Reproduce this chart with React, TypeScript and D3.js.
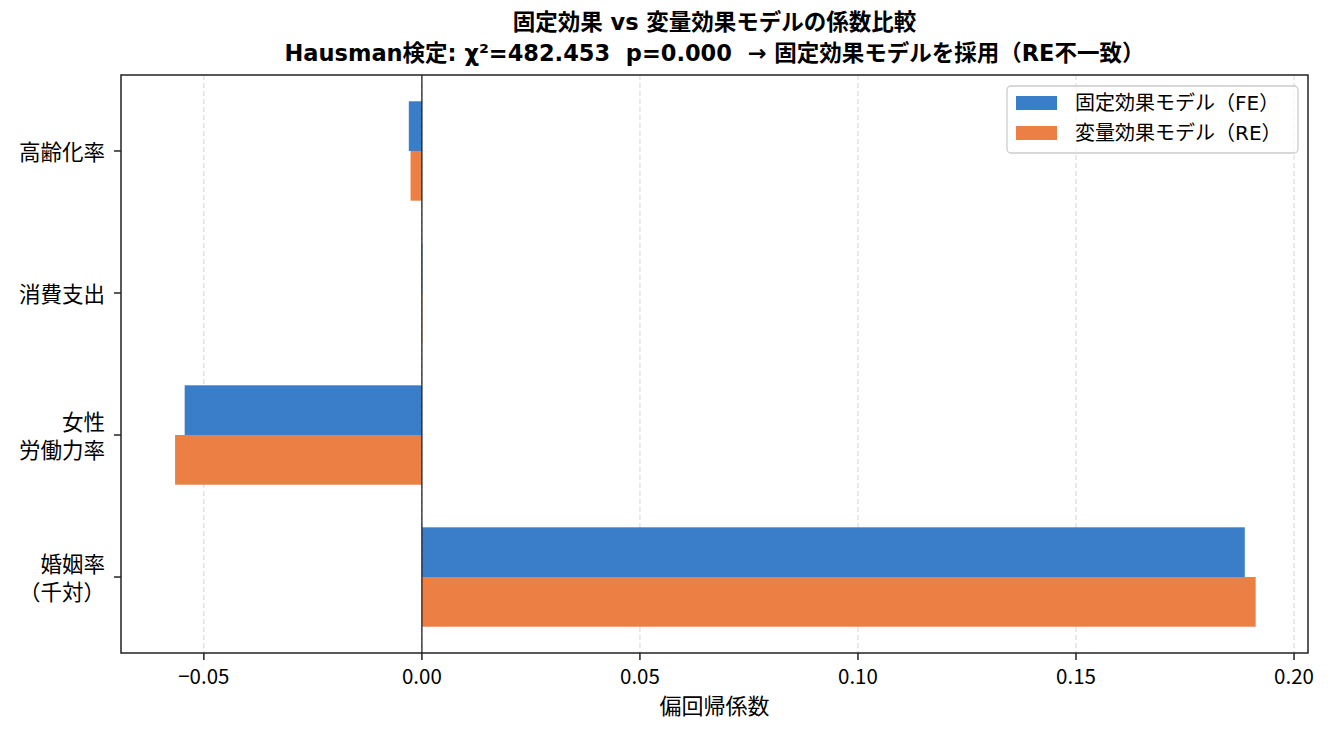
import React from 'react';
import * as d3 from 'd3';

// bottom to top, as matplotlib barh draws them
const categories = ['婚姻率\n（千対）', '女性\n労働力率', '消費支出', '高齢化率'];
const feValues = [0.1887, -0.0544, 0.0001, -0.0030];
const reValues = [0.1912, -0.0566, 0.0001, -0.0026];
const xTicks = [-0.05, 0.0, 0.05, 0.1, 0.15, 0.2];
const seriesNames = ['固定効果モデル（FE）', '変量効果モデル（RE）'];
const colors = ['#3a7dc9', '#ec7f43'];

const W = 1333;
const H = 735;
const margin = { top: 75, right: 25, bottom: 82, left: 121 };
const FONT = '"Noto Sans CJK JP", "Noto Sans", sans-serif';
const LATIN_FIRST = '"DejaVu Sans", "Noto Sans CJK JP", sans-serif';
const barH = 0.35;

export default function App() {
  const x = d3.scaleLinear().domain([-0.069, 0.2032]).range([margin.left, W - margin.right]);
  const y = d3.scaleLinear().domain([-0.535, 3.535]).range([H - margin.bottom, margin.top]);
  const fmt = d3.format('.2f');
  const bottom = H - margin.bottom;
  const cx = (margin.left + W - margin.right) / 2;

  return (
    <svg width={W} height={H} style={{ position: 'absolute', left: 0, top: 0, background: '#fff' }} fontFamily={FONT}>
      {/* title */}
      <text x={cx} y={30} textAnchor="middle" fontSize={22.5} fontWeight="bold" fontFamily={LATIN_FIRST} style={{ whiteSpace: 'pre' }}>
        固定効果 vs 変量効果モデルの係数比較
      </text>
      <text x={cx} y={61} textAnchor="middle" fontSize={22.5} fontWeight="bold" fontFamily={LATIN_FIRST} style={{ whiteSpace: 'pre' }}>
        {'Hausman検定: χ²=482.453  p=0.000  → 固定効果モデルを採用（RE不一致）'}
      </text>

      {/* grid */}
      {xTicks.map(t => (
        <line key={'g' + t} x1={x(t)} x2={x(t)} y1={margin.top} y2={bottom}
          stroke="#d9d9d9" strokeWidth={1.1} strokeDasharray="5,3" />
      ))}

      {/* bars */}
      {categories.map((c, i) => (
        <g key={c}>
          <rect x={Math.min(x(0), x(feValues[i]))} y={y(i + barH)}
            width={Math.abs(x(feValues[i]) - x(0))} height={y(i) - y(i + barH)} fill={colors[0]} />
          <rect x={Math.min(x(0), x(reValues[i]))} y={y(i)}
            width={Math.abs(x(reValues[i]) - x(0))} height={y(i - barH) - y(i)} fill={colors[1]} />
        </g>
      ))}

      {/* zero line */}
      <line x1={x(0)} x2={x(0)} y1={margin.top} y2={bottom} stroke="#222" strokeWidth={1.3} />

      {/* frame */}
      <rect x={margin.left} y={margin.top} width={W - margin.right - margin.left} height={bottom - margin.top}
        fill="none" stroke="#222" strokeWidth={1.5} />

      {/* x axis */}
      {xTicks.map(t => (
        <g key={'x' + t}>
          <line x1={x(t)} x2={x(t)} y1={bottom} y2={bottom + 7} stroke="#222" strokeWidth={1.5} />
          <text x={x(t)} y={bottom + 31} textAnchor="middle" fontSize={20.5}>{fmt(t)}</text>
        </g>
      ))}
      <text x={cx} y={714} textAnchor="middle" fontSize={22}>偏回帰係数</text>

      {/* y axis */}
      {categories.map((c, i) => {
        const lines = c.split('\n');
        const lh = 28;
        const y0 = y(i) + 1 - ((lines.length - 1) * lh) / 2;
        return (
          <g key={'y' + c}>
            <line x1={margin.left - 7} x2={margin.left} y1={y(i)} y2={y(i)} stroke="#222" strokeWidth={1.5} />
            {lines.map((l, k) => (
              <text key={k} x={margin.left - 16} y={y0 + k * lh} dy="0.36em" textAnchor="end" fontSize={21.5}>{l}</text>
            ))}
          </g>
        );
      })}

      {/* legend */}
      <g transform="translate(1007,86)">
        <rect x={0} y={0} width={291} height={67} rx={4} fill="#fff" fillOpacity={0.8} stroke="#cccccc" strokeWidth={1.3} />
        {seriesNames.map((s, k) => (
          <g key={s} transform={`translate(0,${k * 30})`}>
            <rect x={9} y={10} width={41} height={14} fill={colors[k]} />
            <text x={68} y={17} dy="0.36em" fontSize={20} fontFamily={LATIN_FIRST}>{s}</text>
          </g>
        ))}
      </g>
    </svg>
  );
}
